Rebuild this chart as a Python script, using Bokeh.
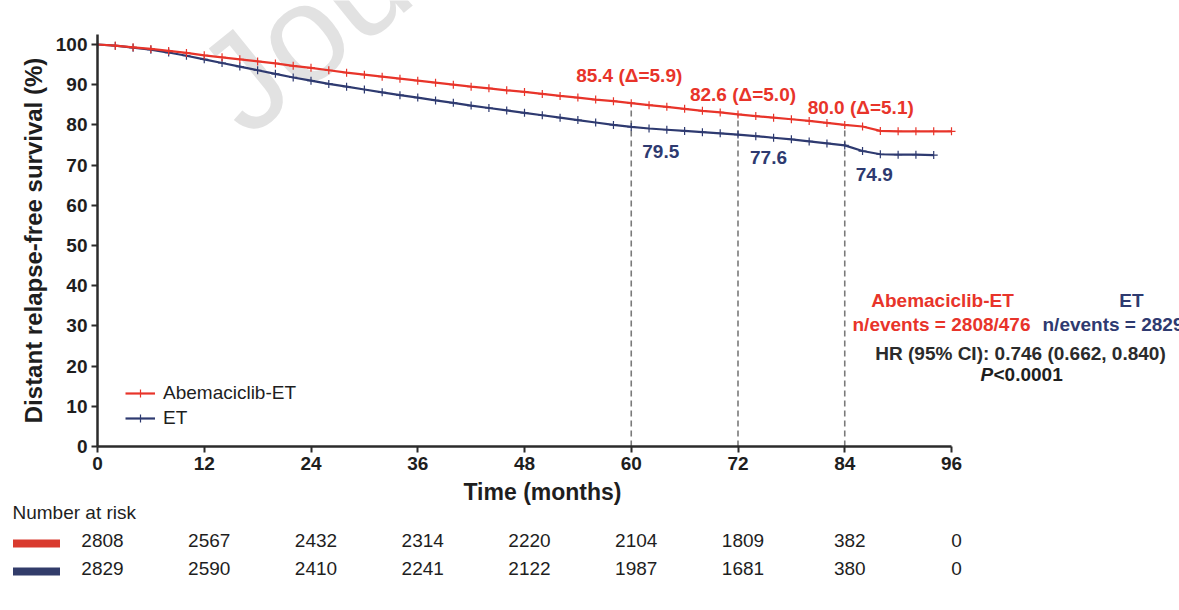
from bokeh.plotting import figure
from bokeh.models import Range1d, FixedTicker, Legend, LegendItem, ColumnDataSource
from bokeh.embed import file_html
from bokeh.resources import INLINE
from bokeh.core.properties import value

# ---- Kaplan-Meier curves (distant relapse-free survival, %) ----
abema_months = [0, 2, 4, 6, 8, 10, 12, 14, 16, 18, 20, 22, 24, 26, 28, 30, 32, 34,
                36, 38, 40, 42, 44, 46, 48, 50, 52, 54, 56, 58, 60, 62, 64, 66, 68,
                70, 72, 74, 76, 78, 80, 82, 84, 86, 88, 90, 92, 94, 96]
abema_surv = [100, 99.7, 99.3, 98.9, 98.4, 97.9, 97.3, 96.8, 96.3, 95.8, 95.3, 94.7,
              94.2, 93.6, 93.0, 92.5, 92.0, 91.5, 91.0, 90.5, 90.0, 89.5, 89.1, 88.6,
              88.2, 87.7, 87.2, 86.8, 86.3, 85.9, 85.4, 84.9, 84.5, 84.0, 83.5, 83.1,
              82.6, 82.2, 81.8, 81.4, 81.0, 80.5, 80.0, 79.6, 78.5, 78.4, 78.4, 78.4,
              78.4]

et_months = [0, 2, 4, 6, 8, 10, 12, 14, 16, 18, 20, 22, 24, 26, 28, 30, 32, 34,
             36, 38, 40, 42, 44, 46, 48, 50, 52, 54, 56, 58, 60, 62, 64, 66, 68,
             70, 72, 74, 76, 78, 80, 82, 84, 86, 88, 90, 92, 94]
et_surv = [100, 99.7, 99.2, 98.7, 98.0, 97.2, 96.3, 95.4, 94.5, 93.6, 92.7, 91.8,
           91.0, 90.2, 89.5, 88.8, 88.1, 87.4, 86.8, 86.1, 85.5, 84.8, 84.2, 83.6,
           83.0, 82.4, 81.8, 81.2, 80.6, 80.0, 79.5, 79.1, 78.8, 78.5, 78.2, 77.9,
           77.6, 77.2, 76.8, 76.4, 75.9, 75.4, 74.9, 73.5, 72.7, 72.6, 72.6, 72.5]

# ---- landmark estimates ----
landmark_months = [60, 72, 84]
abema_landmark = [85.4, 82.6, 80.0]
et_landmark = [79.5, 77.6, 74.9]

# ---- number at risk ----
risk_months = [0, 12, 24, 36, 48, 60, 72, 84, 96]
risk_abema = [2808, 2567, 2432, 2314, 2220, 2104, 1809, 382, 0]
risk_et = [2829, 2590, 2410, 2241, 2122, 1987, 1681, 380, 0]

x_ticks = [0, 12, 24, 36, 48, 60, 72, 84, 96]
y_ticks = [0, 10, 20, 30, 40, 50, 60, 70, 80, 90, 100]

RED = "#e8342a"
NAVY = "#2e3a70"
AXIS = "#2b2b2b"
INK = "#1e1e1e"
FONT = "Liberation Sans"

# page geometry: the plotting area covers the whole canvas, axes sit at x=0 / y=0
W, H = 1179, 610
AXIS_LEFT_PX, AXIS_RIGHT_PX = 97, 951      # where months 0 and 96 fall
AXIS_BOTTOM_PX, AXIS_TOP_PX = 446, 44      # where 0 % and 100 % fall
PPM = (AXIS_RIGHT_PX - AXIS_LEFT_PX) / 96.0
PPP = (AXIS_BOTTOM_PX - AXIS_TOP_PX) / 100.0

x_range = Range1d(-AXIS_LEFT_PX / PPM, (W - AXIS_LEFT_PX) / PPM)
y_range = Range1d(-(H - AXIS_BOTTOM_PX) / PPP, AXIS_BOTTOM_PX / PPP)

p = figure(width=W, height=H, x_range=x_range, y_range=y_range,
           output_backend="svg", toolbar_location=None,
           min_border_left=0, min_border_right=0, min_border_top=0, min_border_bottom=0)
p.outline_line_color = None
p.grid.visible = False
p.background_fill_color = "white"
p.border_fill_color = "white"

p.xaxis.fixed_location = 0
p.yaxis.fixed_location = 0
p.xaxis.bounds = (0, 96)
p.yaxis.bounds = (0, 102.5)
p.xaxis.ticker = FixedTicker(ticks=x_ticks)
p.yaxis.ticker = FixedTicker(ticks=y_ticks)
for ax in (p.xaxis, p.yaxis):
    ax.axis_line_width = 2.5
    ax.axis_line_color = AXIS
    ax.major_tick_line_width = 2
    ax.major_tick_line_color = AXIS
    ax.major_tick_out = 6
    ax.major_tick_in = 0
    ax.minor_tick_line_color = None
    ax.major_label_text_font = FONT
    ax.major_label_text_font_style = "bold"
    ax.major_label_text_font_size = "19px"
    ax.major_label_text_color = INK
    ax.major_label_standoff = 4
p.yaxis.axis_label = "Distant relapse-free survival (%)"
p.yaxis.axis_label_text_font = FONT
p.yaxis.axis_label_text_font_style = "bold"
p.yaxis.axis_label_text_font_size = "24px"
p.yaxis.axis_label_text_color = INK
p.yaxis.axis_label_standoff = 6

# faint watermark
p.text(x=[13.4], y=[85.6], text=["Journal Pre-proof"], angle=0.68,
       text_font=value(FONT), text_font_size="138px", text_color="#e2e2e2",
       text_align="left", text_baseline="alphabetic")

# landmark drop lines
p.segment(x0=landmark_months, y0=[0] * len(landmark_months),
          x1=landmark_months, y1=abema_landmark,
          line_color="#7a7a7a", line_width=1.6, line_dash="6 4")

et_line = p.line(et_months, et_surv, line_color=NAVY, line_width=2.2)
et_cens = p.scatter(et_months, et_surv, marker="cross", size=8,
                    line_color=NAVY, line_width=1.2)
ab_line = p.line(abema_months, abema_surv, line_color=RED, line_width=2.2)
ab_cens = p.scatter(abema_months, abema_surv, marker="cross", size=8,
                    line_color=RED, line_width=1.2)

# landmark labels
red_src = ColumnDataSource(dict(
    x=landmark_months, y=abema_landmark,
    text=[f"{a:.1f} (\u0394={a - b:.1f})" for a, b in zip(abema_landmark, et_landmark)],
    dx=[-2, 5, 16], dy=[-28, -20, -17]))
p.text(x="x", y="y", text="text", x_offset="dx", y_offset="dy", source=red_src,
       text_font=value(FONT), text_font_style="bold", text_font_size="19px",
       text_color=RED, text_align="center", text_baseline="middle")

blue_src = ColumnDataSource(dict(
    x=landmark_months, y=et_landmark,
    text=[f"{b:.1f}" for b in et_landmark],
    dx=[11, 12, 11], dy=[25, 23, 29]))
p.text(x="x", y="y", text="text", x_offset="dx", y_offset="dy", source=blue_src,
       text_font=value(FONT), text_font_style="bold", text_font_size="19px",
       text_color=NAVY, text_align="left", text_baseline="middle")

# legend
legend = Legend(items=[LegendItem(label="Abemaciclib-ET", renderers=[ab_line, ab_cens]),
                       LegendItem(label="ET", renderers=[et_line, et_cens])],
                location=(125, 181), border_line_color=None, background_fill_alpha=0,
                label_text_font=FONT, label_text_font_size="19px",
                label_text_color=INK, glyph_width=30, glyph_height=20,
                label_height=20, label_standoff=8, spacing=3, padding=0, margin=0)
p.add_layout(legend)


# statistics block
def stat(text, x_off, y, color, align="center", style="bold"):
    p.text(x=[96], y=[y], x_offset=x_off, text=[text], text_font=value(FONT),
           text_font_style=style, text_font_size="19px", text_color=color,
           text_align=align, text_baseline="middle")


stat("Abemaciclib-ET", -9, 36.3, RED)
stat("ET", 180, 36.3, NAVY)
stat("n/events = 2808/476", -10, 30.3, RED)
stat("n/events = 2829", 91, 30.3, NAVY, align="left")
stat("HR (95% CI): 0.746 (0.662, 0.840)", 69, 23.1, "#2b2b2b")
stat("P", 29, 17.9, INK, align="left", style="bold italic")
stat("<0.0001", 42, 17.9, INK, align="left")

# x-axis title and number-at-risk table below the axis
p.text(x=[48], y=[-11.4], text=["Time (months)"], x_offset=18,
       text_font=value(FONT), text_font_style="bold", text_font_size="23px",
       text_color=INK, text_align="center", text_baseline="middle")
p.text(x=[risk_months[0]], y=[-16.3], text=["Number at risk"], x_offset=-85,
       text_font=value(FONT), text_font_size="19px", text_color=INK,
       text_align="left", text_baseline="middle")

row_y = [-23.4, -30.35]
swatch_y = [-24.1, -31.1]
swatch_x = (36 - AXIS_LEFT_PX) / PPM
p.rect(x=[swatch_x, swatch_x], y=swatch_y, width=47, height=8,
       width_units="screen", height_units="screen",
       fill_color=["#d93a2e", "#323c6a"], line_color=None)

for counts, yrow in ((risk_abema, row_y[0]), (risk_et, row_y[1])):
    p.text(x=risk_months, y=[yrow] * len(risk_months), text=[str(c) for c in counts],
           x_offset=5, text_font=value(FONT), text_font_size="19px",
           text_color=INK, text_align="center", text_baseline="middle")

open("out.html", "w").write(file_html(p, INLINE))
